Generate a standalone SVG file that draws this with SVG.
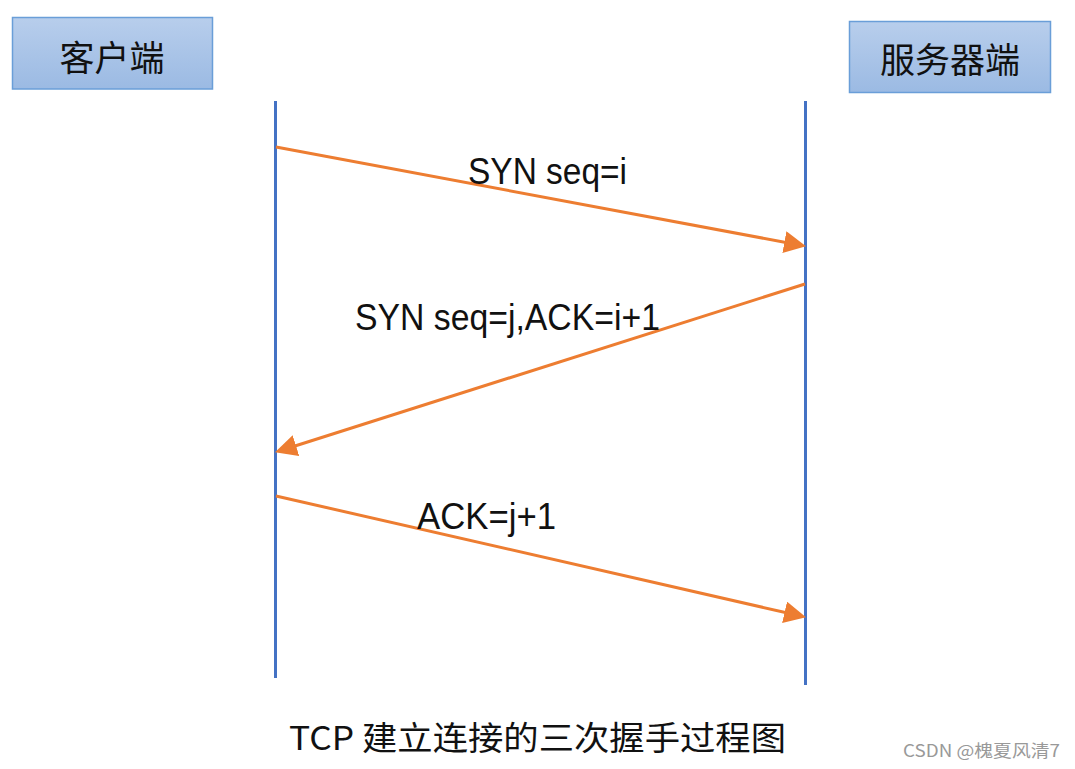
<svg xmlns="http://www.w3.org/2000/svg" width="1075" height="769" viewBox="0 0 1075 769">
  <style>
    .box { stroke: #6A9ED8; stroke-width: 1.5; fill: url(#boxGrad); }
    .boxText { font-family: "Noto Sans CJK SC", "Liberation Sans", sans-serif; font-size: 35px; fill: #111; text-anchor: middle; }
    .life { stroke: #4472C4; stroke-width: 3; fill: none; }
    .msg { stroke: #ED7D31; stroke-width: 3; fill: none; marker-end: url(#arrow); }
    .label { font-family: "Liberation Sans", "Noto Sans CJK SC", sans-serif; font-size: 36px; fill: #111; }
    .title { font-family: "Noto Sans CJK SC", "Liberation Sans", sans-serif; font-size: 33px; fill: #111; }
    .mark { font-family: "Noto Sans CJK SC", "Liberation Sans", sans-serif; font-size: 17px; fill: #999; }
  </style>
  <defs>
    <linearGradient id="boxGrad" x1="0" y1="0" x2="0" y2="1">
      <stop offset="0" stop-color="#B8CEEC"/>
      <stop offset="1" stop-color="#9BBAE3"/>
    </linearGradient>
    <marker id="arrow" markerUnits="userSpaceOnUse" markerWidth="22" markerHeight="22" refX="10" refY="10" orient="auto" viewBox="0 0 20 20">
      <path d="M0,0 L20,10 L0,20 z" fill="#ED7D31"/>
    </marker>
  </defs>
  <rect width="1075" height="769" fill="#ffffff"/>

  <g id="client">
    <rect class="box" x="12.5" y="17.5" width="200" height="71.5"/>
    <text class="boxText" x="112" y="71">客户端</text>
  </g>
  <g id="server">
    <rect class="box" x="849.5" y="21.5" width="201" height="71"/>
    <text class="boxText" x="950" y="73">服务器端</text>
  </g>

  <g id="lifelines">
    <line class="life" x1="275.5" y1="101" x2="275.5" y2="678"/>
    <line class="life" x1="805.5" y1="101" x2="805.5" y2="685"/>
  </g>

  <g id="connectors">
    <line class="msg" x1="276" y1="147" x2="795.2" y2="244.2"/>
    <line class="msg" x1="805" y1="284" x2="285.5" y2="449"/>
    <line class="msg" x1="276" y1="496" x2="795.3" y2="614.8"/>
  </g>

  <g id="labels">
    <text class="label" x="468" y="184" textLength="159" lengthAdjust="spacingAndGlyphs">SYN seq=i</text>
    <text class="label" x="355" y="330" textLength="305" lengthAdjust="spacingAndGlyphs">SYN seq=j,ACK=i+1</text>
    <text class="label" x="417" y="529" textLength="139" lengthAdjust="spacingAndGlyphs">ACK=j+1</text>
  </g>

  <g id="caption">
    <text class="title" x="289" y="750" textLength="497" lengthAdjust="spacingAndGlyphs">TCP 建立连接的三次握手过程图</text>
    <text class="mark" x="903" y="757" textLength="157" lengthAdjust="spacingAndGlyphs">CSDN @槐夏风清7</text>
  </g>
</svg>
